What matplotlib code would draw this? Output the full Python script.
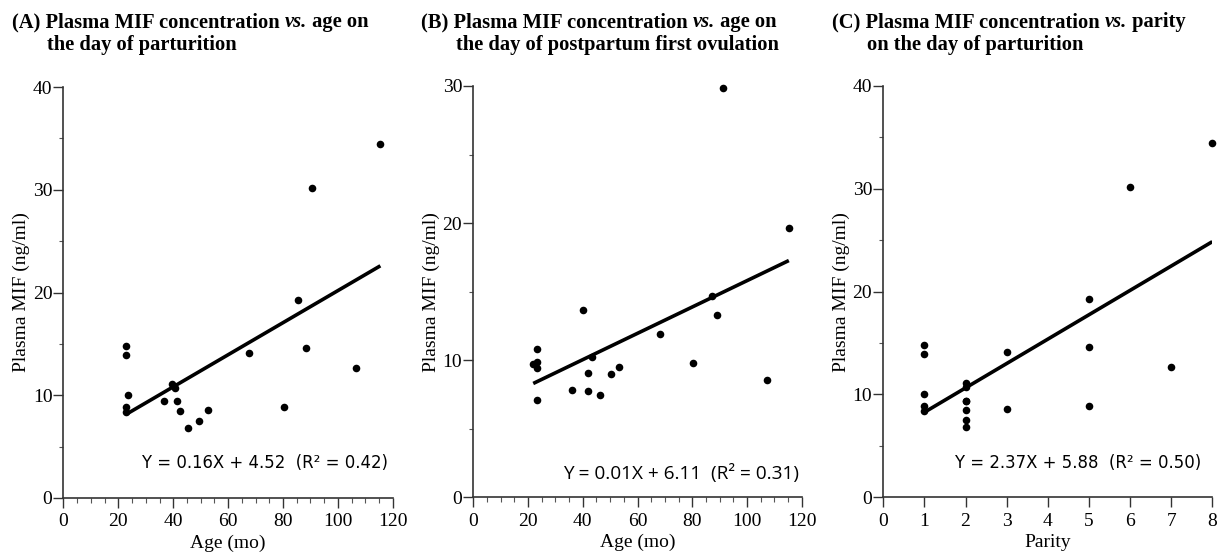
import matplotlib
matplotlib.use('Agg')
import matplotlib.pyplot as plt
import numpy as np
from matplotlib.ticker import MultipleLocator

# ---------------- data ----------------
age_partur = [22.7, 22.7, 23.6, 22.7, 22.7, 36.5, 39.7, 40.6, 41.5, 42.6,
              45.5, 49.5, 52.6, 67.5, 80.5, 85.5, 88.5, 90.6, 106.5, 115.5]
mif_partur = [14.8, 13.9, 10.0, 8.9, 8.4, 9.4, 11.1, 10.7, 9.4, 8.5,
              6.8, 7.5, 8.6, 14.1, 8.9, 19.3, 14.6, 30.2, 12.7, 34.5]
parity = [1, 1, 1, 1, 1, 2, 2, 2, 2, 2, 2, 2, 3, 3, 5, 5, 5, 6, 7, 8]

age_ovul = [21.9, 23.2, 23.2, 23.2, 23.2, 36.2, 40.2, 42.0, 42.0, 43.3,
            46.3, 50.2, 53.4, 68.3, 80.3, 87.3, 89.2, 91.4, 107.3, 115.3]
mif_ovul = [9.75, 9.9, 9.45, 10.85, 7.1, 7.8, 13.65, 9.05, 7.75, 10.2,
            7.45, 9.0, 9.5, 11.9, 9.8, 14.7, 13.3, 29.85, 8.55, 19.65]

# regression lines (slope, intercept) as drawn
fit_A = (0.156, 4.58)
fit_B = (0.096, 6.2)
fit_C = (2.37, 5.9)

eq_A = "Y = 0.16X + 4.52  (R\u00b2 = 0.42)"
eq_B = "Y = 0.01X + 6.11  (R\u00b2 = 0.31)"
eq_C = "Y = 2.37X + 5.88  (R\u00b2 = 0.50)"

titles = [
    [[("(A) Plasma MIF concentration ", 'normal'), ("vs.", 'italic'), (" age on", 'normal')],
     [("the day of parturition", 'normal')]],
    [[("(B) Plasma MIF concentration ", 'normal'), ("vs.", 'italic'), (" age on", 'normal')],
     [("the day of postpartum first ovulation", 'normal')]],
    [[("(C) Plasma MIF concentration ", 'normal'), ("vs.", 'italic'), (" parity", 'normal')],
     [("on the day of parturition", 'normal')]],
]

# ---------------- figure ----------------
W, H = 1225, 559
fig = plt.figure(figsize=(W / 100, H / 100), dpi=100)
serif = 'Liberation Serif'
plt.rcParams['font.family'] = serif

def px_axes(l, r, b, t):
    return fig.add_axes([l / W, 1 - b / H, (r - l) / W, (b - t) / H])

axA = px_axes(63.5, 392.7, 498, 87)
axB = px_axes(473.3, 801.7, 497.3, 86)
axC = px_axes(883.3, 1212.3, 497.3, 86)

def style(ax, xlim, ylim, xmaj, xmin, ymaj, ymin, xlabel):
    ax.set_xlim(*xlim)
    ax.set_ylim(*ylim)
    for s in ['top', 'right']:
        ax.spines[s].set_visible(False)
    for s in ['left', 'bottom']:
        ax.spines[s].set_linewidth(1.2)
        ax.spines[s].set_color('#333333')
    ax.xaxis.set_major_locator(MultipleLocator(xmaj))
    if xmin:
        ax.xaxis.set_minor_locator(MultipleLocator(xmin))
    ax.yaxis.set_major_locator(MultipleLocator(ymaj))
    ax.yaxis.set_minor_locator(MultipleLocator(ymin))
    ax.tick_params(axis='x', which='major', length=7, width=1.0, color='#333333',
                   labelsize=14, pad=4)
    ax.tick_params(axis='x', which='minor', length=3.5, width=0.8, color='#555555')
    ax.tick_params(axis='y', which='major', length=7, width=1.0, color='#333333',
                   labelsize=14, pad=1)
    ax.tick_params(axis='y', which='minor', length=3, width=0.8, color='#555555')
    ax.set_ylabel("Plasma MIF (ng/ml)", fontsize=14, labelpad=2)
    ax.set_xlabel(xlabel, fontsize=14, labelpad=3)

style(axA, (0, 120), (0, 40), 20, 5, 10, 5, "Age (mo)")
style(axB, (0, 120), (0, 30), 20, 5, 10, 5, "Age (mo)")
style(axC, (0, 8), (0, 40), 1, None, 10, 5, "Parity")

def panel(ax, x, y, fit, eq, eq_pos, eqfont, eqsize):
    ax.scatter(x, y, s=30, color='black', zorder=3, clip_on=False, linewidths=0)
    xs = np.array([min(x), max(x)])
    ax.plot(xs, fit[0] * xs + fit[1], color='black', lw=2.6, zorder=2,
            solid_capstyle='butt')
    ax.text(eq_pos[0], eq_pos[1], eq, fontsize=eqsize, family=eqfont,
            ha='left', va='center')

panel(axA, age_partur, mif_partur, fit_A, eq_A, (28.5, 3.4), 'DejaVu Sans', 11.9)
panel(axB, age_ovul, mif_ovul, fit_B, eq_B, (32.9, 1.75), 'Open Sans', 13.7)
panel(axC, parity, mif_partur, fit_C, eq_C, (1.74, 3.3), 'DejaVu Sans', 11.9)

# titles with mixed style
fig.canvas.draw()
renderer = fig.canvas.get_renderer()

def rich_line(x0, ybase, pieces):
    x = x0
    for txt, st in pieces:
        t = fig.text(x / W, 1 - ybase / H, txt, fontsize=14.8, fontweight='bold',
                     fontstyle=st, family=serif, ha='left', va='baseline')
        bb = t.get_window_extent(renderer)
        x += bb.width

title_x = [12, 421, 832]
indent = 35
for tx, (l1, l2) in zip(title_x, titles):
    rich_line(tx, 27, l1)
    rich_line(tx + indent, 50, l2)

fig.savefig('out.png', dpi=100)
